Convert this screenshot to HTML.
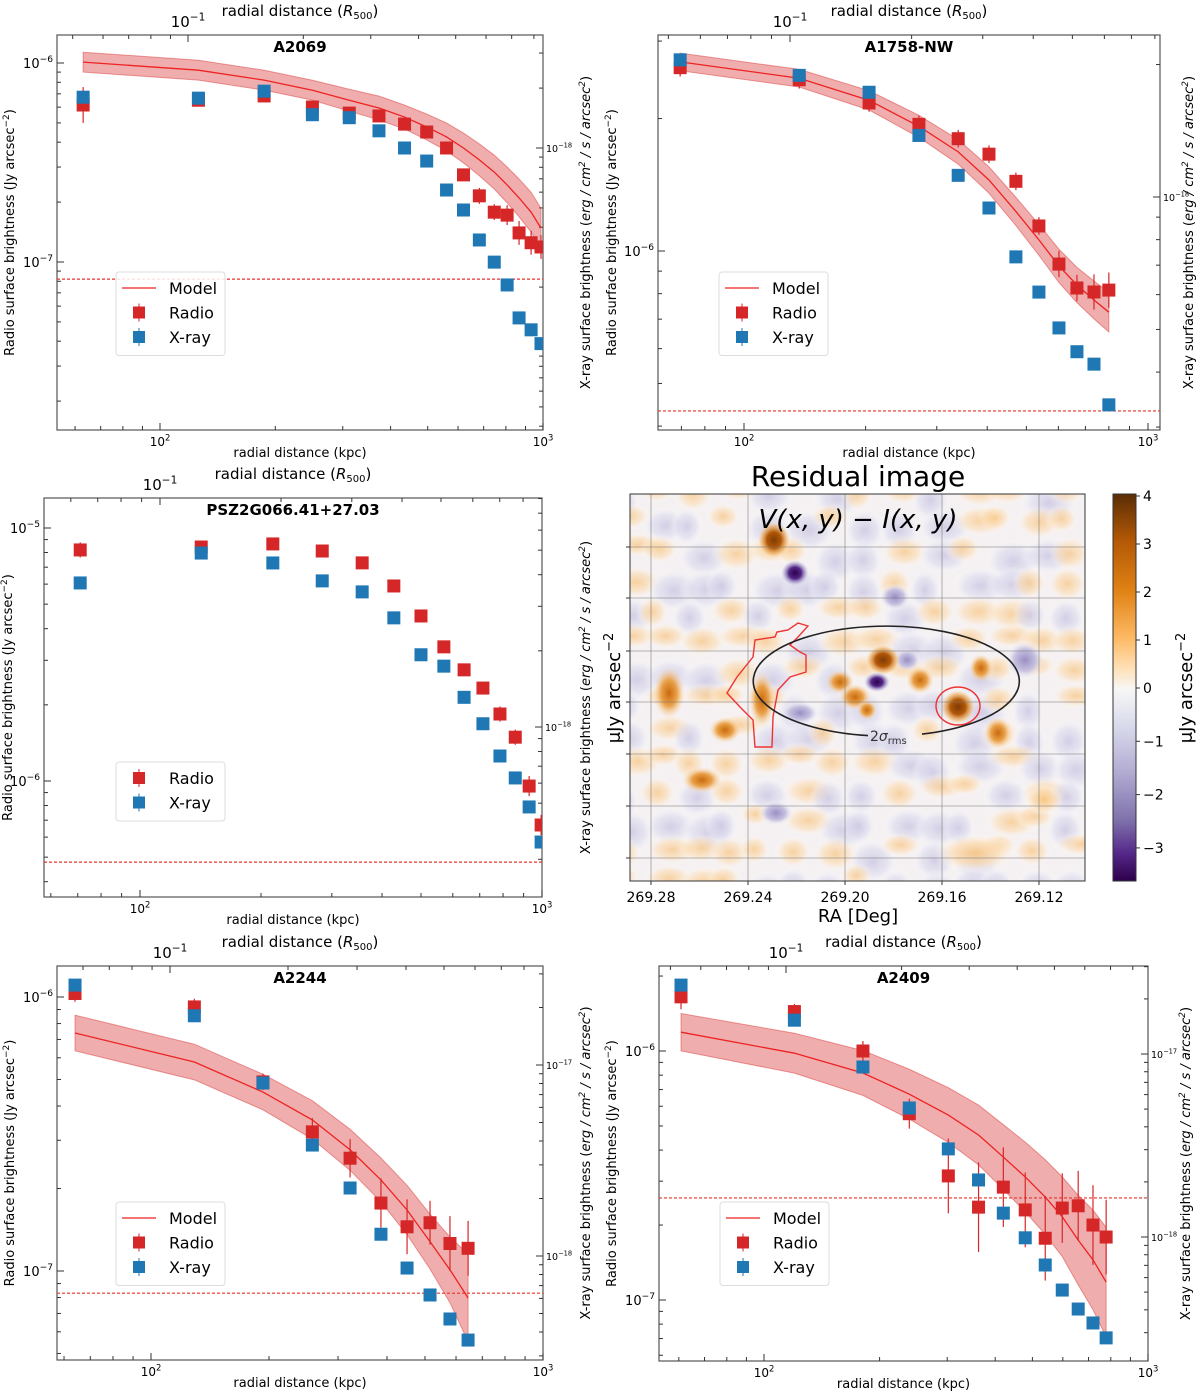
<!DOCTYPE html>
<html><head><meta charset="utf-8">
<style>
html,body{margin:0;padding:0;background:#fff;}
svg{display:block;font-family:"DejaVu Sans","Liberation Sans",sans-serif;}
</style></head>
<body>
<svg id="fig" xmlns="http://www.w3.org/2000/svg" width="1200" height="1393" viewBox="0 0 1200 1393">
<defs>
<linearGradient id="cbar" x1="0" y1="0" x2="0" y2="1">
<stop offset="0" stop-color="#5a2d05"/>
<stop offset="0.12" stop-color="#b35806"/>
<stop offset="0.25" stop-color="#e08214"/>
<stop offset="0.37" stop-color="#fdb863"/>
<stop offset="0.45" stop-color="#fee0b6"/>
<stop offset="0.505" stop-color="#f7f7f7"/>
<stop offset="0.6" stop-color="#d8daeb"/>
<stop offset="0.72" stop-color="#b2abd2"/>
<stop offset="0.84" stop-color="#8073ac"/>
<stop offset="0.93" stop-color="#542788"/>
<stop offset="1" stop-color="#2d004b"/>
</linearGradient>
<radialGradient id="gO3"><stop offset="0" stop-color="#7f3b08"/><stop offset="0.45" stop-color="#b35806"/><stop offset="0.8" stop-color="#f0b060" stop-opacity="0.6"/><stop offset="1" stop-color="#fee0b6" stop-opacity="0"/></radialGradient>
<radialGradient id="gO2"><stop offset="0" stop-color="#c96a0c"/><stop offset="0.5" stop-color="#e9a14a"/><stop offset="1" stop-color="#fee0b6" stop-opacity="0"/></radialGradient>
<radialGradient id="gO1"><stop offset="0" stop-color="#f8c47f" stop-opacity="0.9"/><stop offset="0.55" stop-color="#fcdcb2" stop-opacity="0.7"/><stop offset="1" stop-color="#fff" stop-opacity="0"/></radialGradient>
<radialGradient id="gP3"><stop offset="0" stop-color="#2d004b"/><stop offset="0.45" stop-color="#542788"/><stop offset="0.8" stop-color="#b2abd2" stop-opacity="0.6"/><stop offset="1" stop-color="#d8daeb" stop-opacity="0"/></radialGradient>
<radialGradient id="gP2"><stop offset="0" stop-color="#9a8fc4"/><stop offset="0.55" stop-color="#c7c2e0"/><stop offset="1" stop-color="#fff" stop-opacity="0"/></radialGradient>
<radialGradient id="gP1"><stop offset="0" stop-color="#c6c0e0" stop-opacity="0.9"/><stop offset="0.6" stop-color="#dcdcee" stop-opacity="0.7"/><stop offset="1" stop-color="#fff" stop-opacity="0"/></radialGradient>
<clipPath id="imgclip"><rect x="630" y="494" width="455" height="387"/></clipPath>
</defs>
<g id="root"></g>
</svg>
<script>
// ===== Panel data =====
// A2069
const p1Kpc = [63,126,187,250,312,373,435,497,560,620,682,746,806,866,931,988];
const p1Radio = [6.15e-7,6.5e-7,6.83e-7,6.01e-7,5.6e-7,5.42e-7,4.93e-7,4.50e-7,3.74e-7,2.74e-7,2.15e-7,1.78e-7,1.72e-7,1.40e-7,1.25e-7,1.19e-7];
const p1RadioErr = [0.09,0.02,0.02,0.02,0.02,0.02,0.02,0.02,0.02,0.03,0.04,0.04,0.05,0.06,0.06,0.06];
const p1Xray = [1.80e-18,1.78e-18,1.93e-18,1.47e-18,1.42e-18,1.22e-18,1.0e-18,8.6e-19,6.15e-19,4.88e-19,3.45e-19,2.67e-19,2.05e-19,1.40e-19,1.22e-19,1.04e-19];
const p1Model = [1.01e-6,9.2e-7,8.2e-7,7.3e-7,6.5e-7,5.94e-7,5.35e-7,4.77e-7,4.25e-7,3.74e-7,3.26e-7,2.83e-7,2.44e-7,2.10e-7,1.78e-7,1.48e-7];
const p1Band = [0.05,0.05,0.05,0.05,0.055,0.06,0.06,0.065,0.07,0.075,0.08,0.085,0.09,0.095,0.1,0.1];
const p1Noise = 8.2e-8;
// A1758-NW
const p2Kpc = [69.5,137,204,271,339,404,471,537,602,667,735,800];
const p2Radio = [2.61e-6,2.45e-6,2.17e-6,1.94e-6,1.80e-6,1.66e-6,1.44e-6,1.14e-6,9.34e-7,8.24e-7,8.07e-7,8.15e-7];
const p2RadioErr = [0.02,0.02,0.02,0.02,0.02,0.02,0.02,0.02,0.03,0.03,0.04,0.04];
const p2Xray = [2.05e-18,1.89e-18,1.73e-18,1.38e-18,1.12e-18,9.44e-19,7.31e-19,6.08e-19,5.04e-19,4.45e-19,4.17e-19,3.37e-19];
const p2Model = [2.69e-6,2.47e-6,2.20e-6,1.92e-6,1.68e-6,1.45e-6,1.23e-6,1.06e-6,9.25e-7,8.37e-7,7.74e-7,7.26e-7];
const p2Band = [0.02,0.02,0.022,0.025,0.028,0.03,0.032,0.035,0.038,0.04,0.043,0.045];
const p2Noise = 4.33e-7;
// PSZ2G066.41+27.03
const p3Kpc = [71,142,214,284,357,428,500,570,640,713,786,858,929,995];
const p3Radio = [8.19e-6,8.41e-6,8.65e-6,8.11e-6,7.28e-6,5.90e-6,4.49e-6,3.39e-6,2.75e-6,2.33e-6,1.84e-6,1.49e-6,9.55e-7,6.70e-7];
const p3RadioErr = [0.03,0.02,0.02,0.02,0.02,0.02,0.02,0.02,0.02,0.02,0.03,0.03,0.04,0.04];
const p3Xray = [3.71e-18,4.87e-18,4.45e-18,3.78e-18,3.42e-18,2.70e-18,1.93e-18,1.74e-18,1.31e-18,1.03e-18,7.68e-19,6.29e-19,4.83e-19,3.51e-19];
const p3Noise = 4.78e-7;
// A2244
const p5Kpc = [64,129,193,258,322,386,450,515,579,644];
const p5Radio = [1.03e-6,9.20e-7,4.9e-7,3.22e-7,2.58e-7,1.77e-7,1.45e-7,1.50e-7,1.26e-7,1.21e-7];
const p5RadioErr = [0.03,0.03,0.03,0.05,0.07,0.09,0.1,0.08,0.1,0.1];
const p5Xray = [2.62e-17,1.81e-17,8.05e-18,3.81e-18,2.27e-18,1.30e-18,8.65e-19,6.25e-19,4.68e-19,3.63e-19];
const p5Model = [7.39e-7,5.79e-7,4.5e-7,3.56e-7,2.77e-7,2.15e-7,1.67e-7,1.28e-7,1.01e-7,7.97e-8];
const p5Band = [0.065,0.065,0.065,0.07,0.075,0.08,0.09,0.1,0.12,0.16];
const p5Noise = 8.3e-8;
// A2409
const p6Kpc = [60.8,120,181,239,302,362,420,479,540,598,658,719,778];
const p6Radio = [1.65e-6,1.44e-6,1.0e-6,5.6e-7,3.15e-7,2.36e-7,2.84e-7,2.30e-7,1.77e-7,2.34e-7,2.39e-7,2.0e-7,1.79e-7];
const p6RadioErr = [0.05,0.03,0.04,0.06,0.15,0.18,0.16,0.15,0.17,0.14,0.14,0.16,0.15];
const p6Xray = [2.38e-17,1.53e-17,8.49e-18,5.07e-18,3.03e-18,2.05e-18,1.35e-18,9.9e-19,7.03e-19,5.13e-19,4.04e-19,3.39e-19,2.81e-19];
const p6Model = [1.19e-6,9.8e-7,8.16e-7,6.71e-7,5.53e-7,4.60e-7,3.75e-7,3.12e-7,2.59e-7,2.16e-7,1.74e-7,1.45e-7,1.18e-7];
const p6Band = [0.075,0.08,0.09,0.1,0.11,0.12,0.13,0.14,0.15,0.16,0.18,0.2,0.22];
const p6Noise = 2.57e-7;
// Residual colorbar ticks
const cbTicks = [4,3,2,1,0,-1,-2,-3];
const raTicks = ["269.28","269.24","269.20","269.16","269.12"];

// ===== helpers =====
const NS = "http://www.w3.org/2000/svg";
const root = document.getElementById("root");
function el(tag, attrs, parent){
  const e = document.createElementNS(NS, tag);
  for (const k in attrs) e.setAttribute(k, attrs[k]);
  (parent||root).appendChild(e);
  return e;
}
function powText(x, y, base, exp, size, anchor, parent){
  const t = el("text", {x:x, y:y, "font-size":size, "text-anchor":anchor||"middle", fill:"#000"}, parent);
  t.appendChild(document.createTextNode(base));
  const s = el("tspan", {dy: -size*0.45, "font-size": size*0.7}, t);
  s.textContent = exp;
  return t;
}
const RED = "#d62728", BLUE = "#1f77b4";

function panel(cfg){
  const g = el("g", {});
  
  
  const [L,T,R,B] = cfg.box;
  const xs = k => cfg.x100 + (Math.log10(k) - 2) * cfg.dx;
  const yl = v => cfg.yL[1] + (cfg.yL[0] - Math.log10(v)) * cfg.yL[2];
  const yr = v => cfg.yR[1] + (cfg.yR[0] - Math.log10(v)) * cfg.yR[2];
  const fr = el("rect", {x:L, y:T, width:R-L, height:B-T, fill:"none", stroke:"#555", "stroke-width":1.2}, g);
  
  
  for (let e=1; e<=3; e++) for (let m=1; m<10; m++){
    const x = xs(m*Math.pow(10,e));
    if (x < L || x > R) continue;
    const len = m===1 ? 7 : 4;
    el("line", {x1:x, y1:B, x2:x, y2:B-len, stroke:"#333", "stroke-width":1}, g);
  }
  [2,3].forEach(e => {
    const x = xs(Math.pow(10,e));
    if (x >= L-1 && x <= R+1) powText(x, B+16, "10", String(e), 12, "middle", g);
  });
  for (let e=-2; e<=0; e++) for (let m=1; m<10; m++){
    const x = cfg.top + (Math.log10(m) + e + 1) * cfg.dx;
    if (x < L || x > R) continue;
    el("line", {x1:x, y1:T, x2:x, y2:T+(m===1?7:4), stroke:"#333", "stroke-width":1}, g);
  }
  const tl = powText(cfg.top, T-8, "10", "−1", 15, "middle", g);
  
  
  const tt = el("text", {x:(L+R)/2, y:T-19, "font-size":15, "text-anchor":"middle"}, g);
  
  
  tt.innerHTML = 'radial distance (<tspan font-style="italic">R</tspan><tspan font-size="10" dy="3">500</tspan><tspan dy="-3">)</tspan>';
  for (let e=cfg.yL[0]-3; e<=cfg.yL[0]+2; e++) for (let m=1; m<10; m++){
    const y = yl(m*Math.pow(10,e));
    if (y < T || y > B) continue;
    el("line", {x1:L, y1:y, x2:L+(m===1?7:4), y2:y, stroke:"#333", "stroke-width":1}, g);
    if (m===1) powText(L-4, y+5, "10", "−"+(-e), 13, "end", g);
  }
  for (let e=-21; e<=-15; e++) for (let m=1; m<10; m++){
    const y = yr(m*Math.pow(10,e));
    if (y < T || y > B) continue;
    el("line", {x1:R, y1:y, x2:R-(m===1?7:4), y2:y, stroke:"#333", "stroke-width":1}, g);
    if (m===1 && cfg.rightLabels.indexOf(e) >= 0) powText(R+3, y+4, "10", "−"+(-e), 9.5, "start", g);
  }
  const xl = el("text", {x:(L+R)/2, y:B+27, "font-size":13, "text-anchor":"middle"}, g);
  xl.textContent = "radial distance (kpc)";
  
  
  const lx = cfg.leftLabelX, my = (T+B)/2;
  const yl1 = el("text", {x:lx, y:my, "font-size":13, "text-anchor":"middle", transform:`rotate(-90 ${lx} ${my})`}, g);
  yl1.innerHTML = 'Radio surface brightness (Jy arcsec<tspan dy="-5" font-size="9">−2</tspan><tspan dy="5">)</tspan>';
  
  
  const rx = cfg.rightLabelX;
  const yl2 = el("text", {x:rx, y:my, "font-size":13, "text-anchor":"middle", transform:`rotate(-90 ${rx} ${my})`}, g);
  yl2.innerHTML = 'X-ray surface brightness (<tspan font-style="italic">erg / cm<tspan dy="-5" font-size="9">2</tspan><tspan dy="5"> / s / arcsec</tspan><tspan dy="-5" font-size="9">2</tspan></tspan><tspan dy="5">)</tspan>';
  
  
  const ti = el("text", {x:(L+R)/2, y:T+17, "font-size":15, "font-weight":"bold", "text-anchor":"middle"}, g);
  ti.textContent = cfg.title;
  
  
  const cid = "clip-"+cfg.name;
  const cp = el("clipPath", {id:cid}, g);
  el("rect", {x:L, y:T, width:R-L, height:B-T}, cp);
  const pg = el("g", {"clip-path":`url(#${cid})`}, g);
  const nl = el("line", {x1:L, x2:R, y1:yl(cfg.noise), y2:yl(cfg.noise), stroke:"#e8302a", "stroke-width":1.2, "stroke-dasharray":"3,2"}, pg);
  
  
  if (cfg.model){
    let up = "", lo = "";
    cfg.model.forEach((v,i) => {
      up += (i?"L":"M") + xs(cfg.kpc[i]) + "," + yl(v*Math.pow(10,cfg.band[i])) + " ";
    });
    for (let i=cfg.model.length-1; i>=0; i--){
      lo += "L" + xs(cfg.kpc[i]) + "," + yl(cfg.model[i]*Math.pow(10,-cfg.band[i])) + " ";
    }
    const band = el("path", {d: up+lo+"Z", fill:"rgba(220,60,60,0.42)", stroke:"rgba(220,60,60,0.5)", "stroke-width":1}, pg);
    
    
    const d = cfg.model.map((v,i) => (i?"L":"M") + xs(cfg.kpc[i]) + "," + yl(v)).join(" ");
    const ml = el("path", {d:d, fill:"none", stroke:"#ee2222", "stroke-width":1.3}, pg);
    
    
  }
  cfg.radio.forEach((v,i) => {
    const x = xs(cfg.kpc[i]), y = yl(v), e = cfg.radioErr[i];
    el("line", {x1:x, x2:x, y1:yl(v*Math.pow(10,e)), y2:yl(v*Math.pow(10,-e)), stroke:RED, "stroke-width":1.2}, pg);
    const r = el("rect", {x:x-6.5, y:y-6.5, width:13, height:13, fill:RED}, pg);
    
    
  });
  cfg.xray.forEach((v,i) => {
    const x = xs(cfg.kpc[i]), y = yr(v);
    const r = el("rect", {x:x-6.5, y:y-6.5, width:13, height:13, fill:BLUE}, pg);
    
    
  });
  const [lx0, ly0] = cfg.legend;
  const lg = el("g", {}, g);
  
  
  const n = cfg.model ? 3 : 2;
  el("rect", {x:lx0, y:ly0, width:109, height:10+n*24.5, rx:3, fill:"rgba(255,255,255,0.85)", stroke:"#ddd"}, lg);
  let row = 0;
  const entries = [];
  if (cfg.model) entries.push(["Model","line"]);
  entries.push(["Radio","r"]); entries.push(["X-ray","b"]);
  entries.forEach(([label, kind]) => {
    const cy = ly0 + 16 + row*24.5;
    const eg = el("g", {}, lg);
    
    
    if (kind==="line") el("line", {x1:lx0+6, x2:lx0+40, y1:cy, y2:cy, stroke:"#ee2222", "stroke-width":1.3}, eg);
    else {
      el("line", {x1:lx0+23, x2:lx0+23, y1:cy-9, y2:cy+9, stroke:kind==="r"?RED:BLUE, "stroke-width":1}, eg);
      el("rect", {x:lx0+17, y:cy-6, width:12, height:12, fill:kind==="r"?RED:BLUE}, eg);
    }
    const t = el("text", {x:lx0+53, y:cy+6, "font-size":16}, eg);
    t.textContent = label;
    row++;
  });
}

panel({name:"panel-a2069", title:"A2069", box:[57,35,543,430], x100:160, dx:383, yL:[-6,63,199], yR:[-18,148,199], top:188, rightLabels:[-18],
  kpc:p1Kpc, radio:p1Radio, radioErr:p1RadioErr, xray:p1Xray, model:p1Model, band:p1Band, noise:p1Noise, legend:[116,272], leftLabelX:14, rightLabelX:590});
panel({name:"panel-a1758nw", title:"A1758-NW", box:[658,35,1160,430], x100:744, dx:404, yL:[-6,251,440], yR:[-18,197,440], top:790, rightLabels:[-18],
  kpc:p2Kpc, radio:p2Radio, radioErr:p2RadioErr, xray:p2Xray, model:p2Model, band:p2Band, noise:p2Noise, legend:[719,272], leftLabelX:616, rightLabelX:1193});
panel({name:"panel-psz2g066", title:"PSZ2G066.41+27.03", box:[44,498,542,897], x100:140, dx:402, yL:[-5,528,253], yR:[-18,727,253], top:160, rightLabels:[-18],
  kpc:p3Kpc, radio:p3Radio, radioErr:p3RadioErr, xray:p3Xray, model:null, noise:p3Noise, legend:[116,762], leftLabelX:12, rightLabelX:590});
panel({name:"panel-a2244", title:"A2244", box:[57,966,543,1360], x100:151, dx:392, yL:[-6,997,274], yR:[-18,1256,191], top:170, rightLabels:[-17,-18],
  kpc:p5Kpc, radio:p5Radio, radioErr:p5RadioErr, xray:p5Xray, model:p5Model, band:p5Band, noise:p5Noise, legend:[116,1202], leftLabelX:14, rightLabelX:590});
panel({name:"panel-a2409", title:"A2409", box:[659,966,1148,1361], x100:764, dx:384, yL:[-6,1051,249], yR:[-18,1237,183], top:786, rightLabels:[-17,-18],
  kpc:p6Kpc, radio:p6Radio, radioErr:p6RadioErr, xray:p6Xray, model:p6Model, band:p6Band, noise:p6Noise, legend:[720,1202], leftLabelX:616, rightLabelX:1190});

// ===== Residual image =====
(function(){
  const g = el("g", {});
  
  
  const L=630, T=494, R=1085, B=881;
  const t = el("text", {x:858, y:486, "font-size":28, "text-anchor":"middle"}, g);
  t.textContent = "Residual image";
  
  
  const ig = el("g", {"clip-path":"url(#imgclip)"}, g);
  el("rect", {x:L, y:T, width:R-L, height:B-T, fill:"#f5f1f3"}, ig);
  // deterministic mottled texture (smooth, larger patches)
  let k = 0;
  for (let yy = T; yy < B+20; yy += 30){
    for (let xx = L; xx < R+20; xx += 34){
      k++;
      const h = Math.abs(Math.sin(k*12.9898 + yy*0.78) * 43758.5453) % 1;
      const h2 = Math.abs(Math.sin(k*78.233 + xx*0.31) * 12345.678) % 1;
      const type = h < 0.52 ? "gO1" : "gP1";
      el("ellipse", {cx: xx + (h2-0.5)*24, cy: yy + (h-0.5)*20, rx: 16 + h2*14, ry: 12 + h*12, fill:`url(#${type})`, opacity: 0.8}, ig);
    }
  }
  const blobs = [
    [669,693,16,26,"gO2"],[725,730,16,13,"gO2"],[702,780,20,13,"gO2"],[762,700,13,28,"gO2"],
    [840,682,14,12,"gO2"],[855,697,16,13,"gO2"],[867,710,10,10,"gO2"],
    [920,680,14,14,"gO2"],[981,668,12,14,"gO2"],[998,733,14,16,"gO2"],[1044,800,20,16,"gO1"],[975,853,42,20,"gO1"],
    [1025,660,20,20,"gP2"],[907,660,14,12,"gP2"],[800,713,20,12,"gP2"],[895,597,16,14,"gP2"],[776,813,18,13,"gP2"],
    [774,540,16,18,"gO3"],[795,573,14,13,"gP3"],[883,660,17,15,"gO3"],[877,682,13,10,"gP3"],[958,707,17,17,"gO3"]
  ];
  blobs.forEach(b => el("ellipse", {cx:b[0], cy:b[1], rx:b[2], ry:b[3], fill:`url(#${b[4]})`}, ig));
  [651,748,845,942,1039].forEach(x => el("line", {x1:x, x2:x, y1:T, y2:B, stroke:"#777", "stroke-width":0.8, opacity:0.7}, ig));
  [547,598,651,702,754,806,858].forEach(y => el("line", {x1:L, x2:R, y1:y, y2:y, stroke:"#777", "stroke-width":0.8, opacity:0.7}, ig));
  const c1 = el("path", {d:"M808,626 L798,623 L788,630 L777,632 L775,637 L755,640 L753,657 L737,677 L727,693 L740,707 L753,720 L755,747 L772,747 L773,717 L778,690 L790,677 L806,672 L806,655 L800,652 L790,645 L798,637 Z", fill:"none", stroke:"#ee3333", "stroke-width":1.4}, ig);
  
  
  const c2 = el("ellipse", {cx:958, cy:706, rx:22, ry:19, fill:"none", stroke:"#ee3333", "stroke-width":1.4}, ig);
  
  
  const ell = el("path", {d:"M868,735.6 A133,55 0 1 1 922,734.1", fill:"none", stroke:"#222", "stroke-width":1.6}, ig);
  
  
  const sl = el("text", {x:870, y:741, "font-size":14, fill:"#333"}, ig);
  sl.innerHTML = '2<tspan font-style="italic">σ</tspan><tspan font-size="10" dy="3">rms</tspan>';
  
  
  const vt = el("text", {x:858, y:528, "font-size":26, "font-style":"italic", "text-anchor":"middle"}, g);
  vt.textContent = "V(x, y) − I(x, y)";
  
  
  el("rect", {x:L, y:T, width:R-L, height:B-T, fill:"none", stroke:"#333", "stroke-width":1}, g);
  [547,598,651,702,754,806,858].forEach(y => el("line", {x1:L-4, x2:L, y1:y, y2:y, stroke:"#333"}, g));
  raTicks.forEach((lab, i) => {
    const x = 651 + i*97;
    el("line", {x1:x, x2:x, y1:B, y2:B+4, stroke:"#333"}, g);
    const tx = el("text", {x:x, y:B+21, "font-size":14, "text-anchor":"middle"}, g);
    tx.textContent = lab;
    
    
  });
  const rl = el("text", {x:858, y:922, "font-size":18, "text-anchor":"middle"}, g);
  rl.textContent = "RA [Deg]";
  
  
  const yl = el("text", {x:620, y:688, "font-size":18, "text-anchor":"middle", transform:"rotate(-90 620 688)"}, g);
  yl.innerHTML = 'μJy arcsec<tspan dy="-7" font-size="13">−2</tspan>';
  
  
  const cb = el("rect", {x:1113, y:494, width:23, height:387, fill:"url(#cbar)", stroke:"#333"}, g);
  
  
  const cy = v => v >= 0 ? 688 - v*48 : 688 - v*53.3;
  cbTicks.forEach(v => {
    const y = cy(v);
    el("line", {x1:1136, x2:1140, y1:y, y2:y, stroke:"#333"}, g);
    const tx = el("text", {x:1143, y:y+5, "font-size":14}, g);
    tx.textContent = v < 0 ? "−"+(-v) : String(v);
    
    
  });
  const cl = el("text", {x:1192, y:688, "font-size":18, "text-anchor":"middle", transform:"rotate(-90 1192 688)"}, g);
  cl.innerHTML = 'μJy arcsec<tspan dy="-7" font-size="13">−2</tspan>';
  
  
})();
</script>
</body></html>
